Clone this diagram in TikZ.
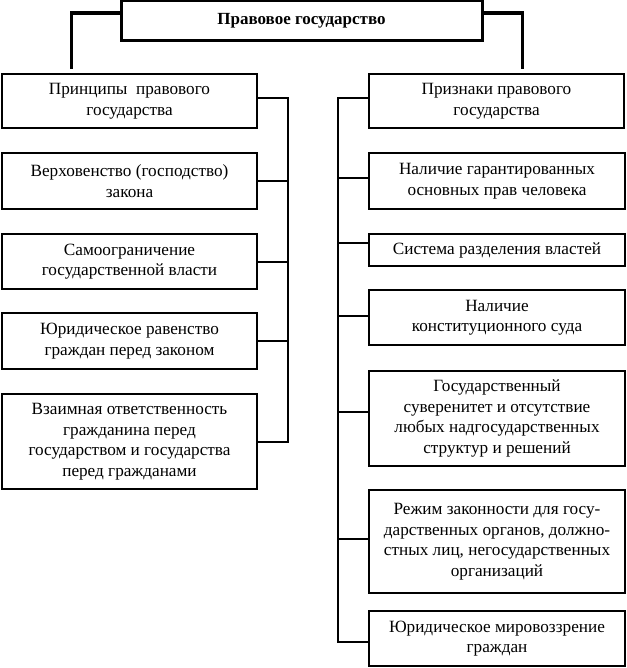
\documentclass[tikz,border=0pt]{standalone}
\usepackage{fontspec}
\setmainfont{Liberation Serif}
\usetikzlibrary{calc}
\begin{document}
\begin{tikzpicture}[x=1pt,y=-1pt,
  box/.style={draw=black, line width=1.8pt, minimum width=255pt, inner sep=2pt, align=center,
    font=\fontsize{17.2}{20.5}\selectfont},
  headbox/.style={box, line width=2.3pt},
  topbox/.style={draw=black, line width=3pt, minimum width=361pt, minimum height=40pt, align=center,
    font=\fontsize{17}{19}\selectfont\bfseries},
  link/.style={line width=2pt},
  toplink/.style={line width=3.2pt}]
\useasboundingbox (0,0) rectangle (626,668);
\node[topbox] (top) at (301.5,21) {Правовое государство};
\node[headbox, minimum height=54pt] (pr) at (129.5,101) {Принципы\ \ правового\\государства};
\node[headbox, minimum height=54pt] (pz) at (496.5,101) {Признаки правового\\государства};
% left column
\node[box, minimum height=56pt] (l1) at (129.5,181) {Верховенство (господство)\\закона};
\node[box, minimum height=55pt] (l2) at (129.5,261.5) {Самоограничение\\государственной власти};
\node[box, minimum height=56pt] (l3) at (129.5,341) {Юридическое равенство\\граждан перед законом};
\node[box, minimum height=95pt] (l4) at (129.5,441.5) {Взаимная ответственность\\гражданина перед\\государством и государства\\перед гражданами};
% right column
\node[box, minimum width=256pt, minimum height=56pt] (r1) at (497,181) {Наличие гарантированных\\основных прав человека};
\node[box, minimum width=256pt, minimum height=32pt] (r2) at (497,250) {Система разделения властей};
\node[box, minimum width=256pt, minimum height=55pt] (r3) at (497,317.5) {Наличие\\конституционного суда};
\node[box, minimum width=256pt, minimum height=95pt] (r4) at (497,418.5) {Государственный\\суверенитет и отсутствие\\любых надгосударственных\\структур и решений};
\node[box, minimum width=256pt, minimum height=103pt] (r5) at (497,541.5) {Режим законности для госу-\\дарственных органов, должно-\\стных лиц, негосударственных\\организаций};
\node[box, minimum width=256pt, minimum height=55pt] (r6) at (497,638.5) {Юридическое мировоззрение\\граждан};
% top connectors
\coordinate (tl) at ($(pr.north west)+(71,-4)$);
\coordinate (tr) at ($(pz.north east)+(-103,-4)$);
\draw[toplink] ([yshift=8pt]top.west) -| (tl);
\draw[toplink] ([yshift=8pt]top.east) -| (tr);
% left trunk
\coordinate (lt) at (288,98);
\draw[link] ([yshift=3pt]pr.east) -- (lt) |- (l4.east);
\foreach \n in {l1,l2,l3} \draw[link] (\n.east) -- (\n.east -| lt);
% right trunk
\coordinate (rt) at (338,98);
\draw[link] ([yshift=3pt]pz.west) -- (rt) |- ([yshift=-3pt]r6.west);
\draw[link] ([yshift=3pt]r1.west) -- ([yshift=3pt]r1.west -| rt);
\draw[link] ([yshift=7pt]r2.west) -- ([yshift=7pt]r2.west -| rt);
\draw[link] ([yshift=2pt]r3.west) -- ([yshift=2pt]r3.west -| rt);
\draw[link] ([yshift=7pt]r4.west) -- ([yshift=7pt]r4.west -| rt);
\draw[link] ([yshift=3pt]r5.west) -- ([yshift=3pt]r5.west -| rt);
\end{tikzpicture}
\end{document}
